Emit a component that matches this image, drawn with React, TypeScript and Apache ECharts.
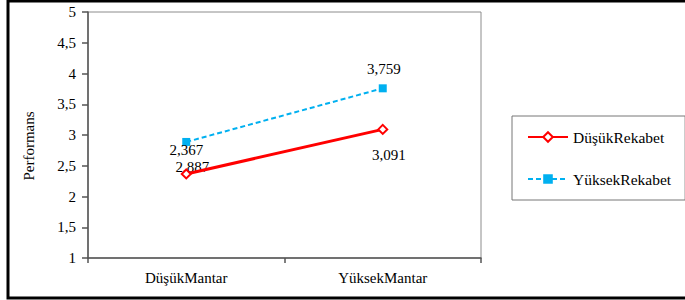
import React, { useEffect, useRef } from "react";
import * as echarts from "echarts";

const categories = ["DüşükMantar", "YüksekMantar"];
const dusukRekabet = [2.367, 3.091];
const yuksekRekabet = [2.887, 3.759];
const seriesNames = ["DüşükRekabet", "YüksekRekabet"];
const yTitle = "Performans";

const FONT = "'Liberation Serif', 'Times New Roman', serif";
const fmt = (v: number) => String(v).replace(".", ",");

export default function App() {
  const ref = useRef<HTMLDivElement>(null);
  useEffect(() => {
    const chart = echarts.init(ref.current!, null, { renderer: "svg" });
    const lbl = (offset: number[]) => ({
      show: true,
      position: "inside",
      offset,
      color: "#000",
      fontFamily: FONT,
      fontSize: 15,
      formatter: (p: any) => fmt(p.value),
    });
    chart.setOption({
      animation: false,
      backgroundColor: "#fff",
      textStyle: { fontFamily: FONT, color: "#000" },
      grid: {
        left: 88,
        right: 204,
        top: 12,
        bottom: 42,
        show: true,
        borderColor: "#8c8c8c",
        borderWidth: 1,
        containLabel: false,
      },
      xAxis: {
        type: "category",
        data: categories,
        boundaryGap: true,
        axisLine: { lineStyle: { color: "#555", width: 1.5 } },
        axisTick: { show: true, length: 5, lineStyle: { color: "#555", width: 1.5 } },
        axisLabel: { color: "#000", fontFamily: FONT, fontSize: 15, margin: 12 },
        splitLine: { show: false },
      },
      yAxis: {
        type: "value",
        min: 1,
        max: 5,
        interval: 0.5,
        name: yTitle,
        nameLocation: "middle",
        nameRotate: 90,
        nameGap: 52,
        nameTextStyle: { color: "#000", fontFamily: FONT, fontSize: 15, padding: [0, 22, 0, 0] },
        axisLine: { show: true, lineStyle: { color: "#555", width: 1.5 } },
        axisTick: { show: true, length: 6, lineStyle: { color: "#555", width: 1.5 } },
        axisLabel: { color: "#000", fontFamily: FONT, fontSize: 15, margin: 12, formatter: (v: number) => fmt(v) },
        splitLine: { show: false },
      },
      legend: {
        orient: "vertical",
        left: 512,
        top: 116,
        padding: [13, 14, 13, 15],
        itemGap: 26,
        itemWidth: 40,
        itemHeight: 12,
        borderColor: "#777",
        borderWidth: 1,
        textStyle: { color: "#000", fontFamily: FONT, fontSize: 15.5 },
        data: seriesNames,
      },
      series: [
        {
          name: seriesNames[0],
          type: "line",
          data: [
            { value: dusukRekabet[0], label: lbl([0, -24]) },
            { value: dusukRekabet[1], label: lbl([6, 26]) },
          ],
          symbol: "diamond",
          symbolSize: 9,
          showAllSymbol: true,
          lineStyle: { color: "#ff0000", width: 3 },
          itemStyle: { color: "#fff", borderColor: "#ff0000", borderWidth: 2 },
          z: 3,
        },
        {
          name: seriesNames[1],
          type: "line",
          data: [
            { value: yuksekRekabet[0], label: lbl([6, 25]) },
            { value: yuksekRekabet[1], label: lbl([1, -19]) },
          ],
          symbol: "rect",
          symbolSize: 8,
          showAllSymbol: true,
          lineStyle: { color: "#00b0f0", width: 2, type: [5, 3] },
          itemStyle: { color: "#00b0f0", borderWidth: 0 },
          z: 2,
        },
      ],
      graphic: [
        {
          type: "rect",
          shape: { x: 8, y: 1, width: 700, height: 297 },
          style: { fill: "none", stroke: "#000", lineWidth: 3 },
          silent: true,
          z: 100,
        },
      ],
    });
    return () => chart.dispose();
  }, []);
  return (
    <div
      ref={ref}
      style={{ position: "fixed", left: 0, top: 0, width: 685, height: 300 }}
    />
  );
}
